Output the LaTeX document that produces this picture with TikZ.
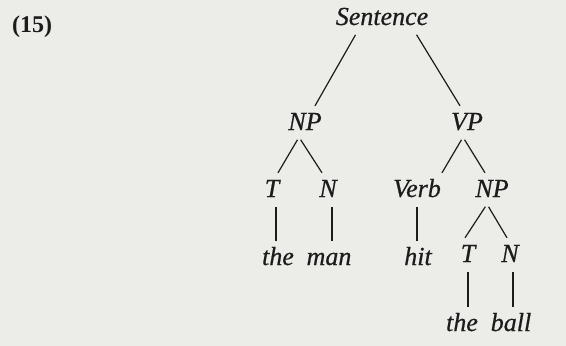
\documentclass[tikz,border=0pt]{standalone}
\usepackage{fontspec}
\setmainfont{Liberation Serif}
\newfontfamily\treefont{Liberation Serif}[FakeBold=0.6]
\definecolor{paper}{RGB}{236,236,233}
\definecolor{ink}{RGB}{28,28,28}

\begin{document}
\begin{tikzpicture}[x=1pt,y=-1pt,
    cat/.style={font=\fontsize{26}{30}\treefont\itshape, text=ink,
      inner xsep=0pt, inner ysep=7pt, text height=17pt, text depth=0pt, anchor=base},
    branch/.style={draw=ink, line width=1.2pt, shorten <=3pt}]
        \fill[paper] (0,0) rectangle (566,346);
        \useasboundingbox (0,0) rectangle (566,346);
        \node[font=\fontsize{24}{28}\selectfont\bfseries, text=ink, inner sep=0pt, anchor=base west] (ex) at (12,32) {(15)};
        % categories
        \node[cat] (sent) at (382,25) {Sentence};
        \node[cat] (np1) at (305,130) {NP};
        \node[cat] (vp) at (467,130) {VP};
        \node[cat] (t1) at (272,197) {T};
        \node[cat] (n1) at (328,197) {N};
        \node[cat] (verb) at (417,197) {Verb};
        \node[cat] (np2) at (492,197) {NP};
        \node[cat] (t2) at (468,262) {T};
        \node[cat] (n2) at (510,262) {N};
        % words
        \node[cat] (the1) at (278,265) {the};
        \node[cat] (man) at (329,265) {man};
        \node[cat] (hit) at (418,265) {hit};
        \node[cat] (the2) at (462,331) {the};
        \node[cat] (ball) at (511,331) {ball};
        % branches
        \draw[branch] ([xshift=-25pt]sent.south) -- ([xshift=10pt]np1.north);
        \draw[branch] ([xshift=33pt]sent.south) -- ([xshift=-7pt]vp.north);
        \draw[branch] ([xshift=-6pt]np1.south) -- ([xshift=6pt]t1.north);
        \draw[branch] ([xshift=-6pt]np1.south) -- ([xshift=-6pt]n1.north);
        \draw[branch] ([xshift=-4pt]vp.south) -- ([xshift=25pt]verb.north);
        \draw[branch] ([xshift=-4pt]vp.south) -- ([xshift=-7pt]np2.north);
        \draw[branch] ([xshift=-5pt]np2.south) -- ([xshift=-3pt]t2.north);
        \draw[branch] ([xshift=-5pt]np2.south) -- ([xshift=-3pt]n2.north);
        \draw[branch] ([xshift=4pt]t1.south) -- ([xshift=-2pt]the1.north);
        \draw[branch] ([xshift=4pt]n1.south) -- ([xshift=3pt]man.north);
        \draw[branch] (verb.south) -- ([xshift=-1pt]hit.north);
        \draw[branch] (t2.south) -- ([xshift=6pt]the2.north);
        \draw[branch] ([xshift=3pt]n2.south) -- ([xshift=2pt]ball.north);
\end{tikzpicture}
\end{document}
